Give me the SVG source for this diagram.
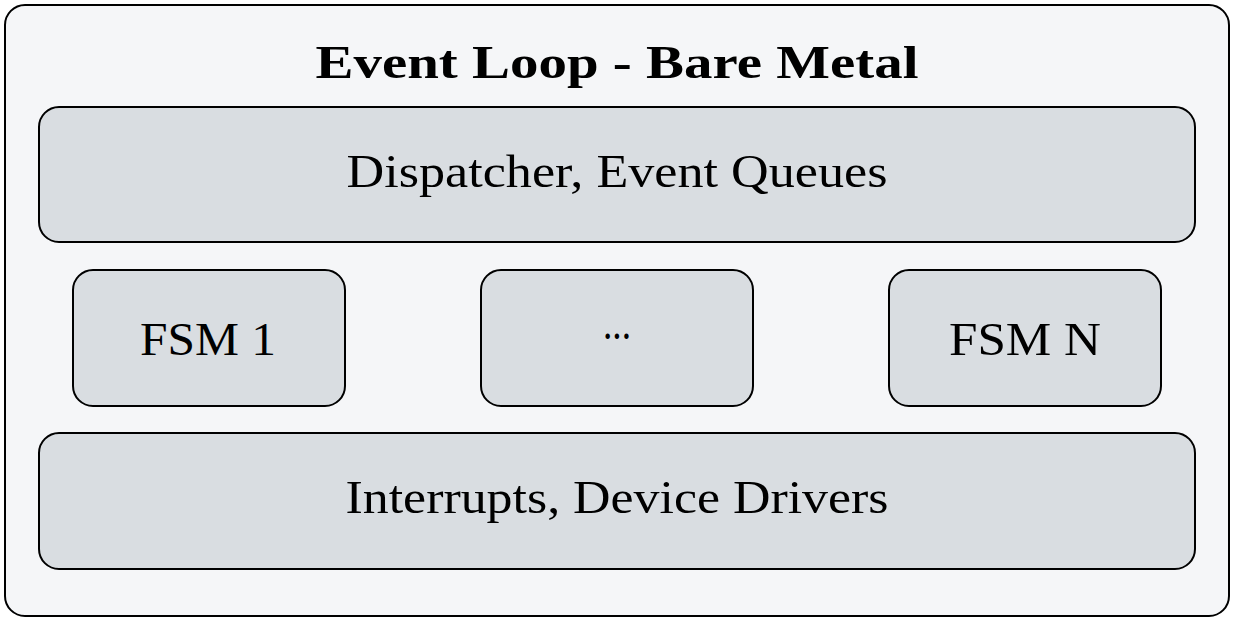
<svg xmlns="http://www.w3.org/2000/svg" width="1234" height="621" viewBox="0 0 1234 621">
<style>
.outer{fill:#f5f6f8;stroke:#000;stroke-width:2}
.box{fill:#d9dde1;stroke:#000;stroke-width:2}
.t{font-family:"Liberation Serif","Times New Roman",serif;font-size:46px;fill:#000;text-anchor:middle}
.title{font-weight:bold}
</style>
<rect width="1234" height="621" fill="#ffffff"/>
<g id="frame">
<rect class="outer" x="5" y="5" width="1224" height="611" rx="20" ry="20"/>
<text class="t title" x="617" y="78" textLength="603" lengthAdjust="spacingAndGlyphs">Event Loop - Bare Metal</text>
</g>
<g id="dispatcher">
<rect class="box" x="39" y="107" width="1156" height="135" rx="20" ry="20"/>
<text class="t" x="617" y="187" textLength="541" lengthAdjust="spacingAndGlyphs">Dispatcher, Event Queues</text>
</g>
<g id="fsm1">
<rect class="box" x="73" y="270" width="272" height="136" rx="20" ry="20"/>
<text class="t" x="208" y="355" textLength="136" lengthAdjust="spacingAndGlyphs">FSM 1</text>
</g>
<g id="fsm-dots">
<rect class="box" x="481" y="270" width="272" height="136" rx="20" ry="20"/>
<text class="t" x="617" y="339" textLength="28" lengthAdjust="spacingAndGlyphs">...</text>
</g>
<g id="fsmN">
<rect class="box" x="889" y="270" width="272" height="136" rx="20" ry="20"/>
<text class="t" x="1025" y="355" textLength="152" lengthAdjust="spacingAndGlyphs">FSM N</text>
</g>
<g id="drivers">
<rect class="box" x="39" y="433" width="1156" height="136" rx="20" ry="20"/>
<text class="t" x="617" y="513" textLength="543" lengthAdjust="spacingAndGlyphs">Interrupts, Device Drivers</text>
</g>
<g id="connectors"></g>
</svg>
